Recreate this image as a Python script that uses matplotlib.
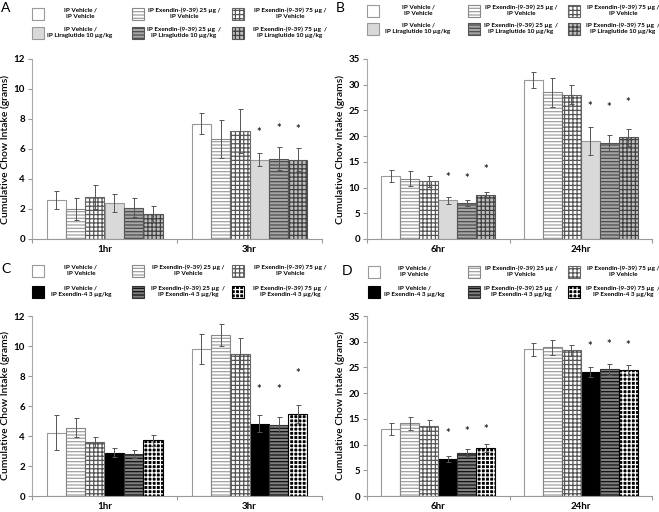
import numpy as np
import matplotlib
matplotlib.use("Agg")
import matplotlib.pyplot as plt
from matplotlib.patches import Rectangle

plt.rcParams['font.family'] = ['Lato', 'DejaVu Sans']
plt.rcParams['hatch.linewidth'] = 0.9

W, H = 659, 512

# ---- data (grams) ----
cats_ab = ['1hr', '3hr']
cats_bd = ['6hr', '24hr']

a_means = [[2.6, 2.0, 2.8, 2.4, 2.1, 1.67], [7.69, 6.69, 7.2, 5.29, 5.36, 5.29]]
a_errs = [[0.63, 0.73, 0.8, 0.6, 0.62, 0.53], [0.71, 1.27, 1.47, 0.44, 0.78, 0.78]]
a_stars = [[None] * 6, [None, None, None, 7.13, 7.36, 7.33]]

b_means = [[12.2, 11.73, 11.2, 7.5, 7.0, 8.55], [30.85, 28.5, 28.06, 19.0, 18.66, 19.77]]
b_errs = [[1.15, 1.4, 1.0, 0.6, 0.5, 0.5], [1.55, 2.8, 1.8, 2.7, 1.6, 1.7]]
b_stars = [[None, None, None, 12.05, 11.86, 13.5], [None, None, None, 25.8, 25.6, 26.6]]

c_means = [[4.22, 4.56, 3.62, 2.89, 2.82, 3.71], [9.8, 10.73, 9.5, 4.82, 4.75, 5.5]]
c_errs = [[1.18, 0.62, 0.34, 0.29, 0.27, 0.36], [0.97, 0.76, 1.05, 0.56, 0.5, 0.6]]
c_stars = [[None] * 6, [None, None, None, 7.1, 7.1, 8.2]]

d_means = [[13.0, 14.1, 13.7, 7.26, 8.4, 9.3], [28.5, 28.9, 28.3, 24.1, 24.6, 24.5]]
d_errs = [[1.2, 1.2, 1.1, 0.6, 0.7, 0.8], [1.2, 1.4, 1.0, 0.9, 1.1, 1.0]]
d_stars = [[None, None, None, 12.1, 12.6, 12.9], [None, None, None, 29.0, 29.5, 29.3]]

labels_lira = ['IP Vehicle /\nIP Vehicle',
               'IP Exendin-(9-39) 25 µg /\nIP Vehicle',
               'IP Exendin-(9-39) 75 µg /\nIP Vehicle',
               'IP Vehicle /\nIP Liraglutide 10 µg/kg',
               'IP Exendin-(9-39) 25 µg  /\nIP Liraglutide 10 µg/kg',
               'IP Exendin-(9-39) 75 µg  /\nIP Liraglutide 10 µg/kg']
labels_ex4 = ['IP Vehicle /\nIP Vehicle',
              'IP Exendin-(9-39) 25 µg /\nIP Vehicle',
              'IP Exendin-(9-39) 75 µg /\nIP Vehicle',
              'IP Vehicle /\nIP Exendin-4 3 µg/kg',
              'IP Exendin-(9-39) 25 µg  /\nIP Exendin-4 3 µg/kg',
              'IP Exendin-(9-39) 75 µg  /\nIP Exendin-4 3 µg/kg']

# style: (fill, hatch, hatch colour, edge colour)
base_styles = [('white', None, None, '#999999'),
               ('white', '-----', '#a0a0a0', '#888888'),
               ('white', '++++', '#555555', '#666666')]
lira_styles = base_styles + [('#d9d9d9', None, None, '#999999'),
                             ('#a6a6a6', '-----', '#4d4d4d', '#555555'),
                             ('#bfbfbf', '++++', '#404040', '#555555')]
ex4_styles = base_styles + [('black', None, None, 'black'),
                            ('#808080', '-----', '#111111', '#333333'),
                            ('black', '++++', 'white', 'black')]


def draw_panel(ax, cats, means, errs, stars, ymax, ystep, styles):
    n = len(styles)
    w = 0.8 / n
    x = np.arange(len(cats))
    for i in range(n):
        fill, hatch, hcol, edge = styles[i]
        xs = x - 0.4 + w * (i + 0.5)
        h = [m[i] for m in means]
        e = [er[i] for er in errs]
        if hatch:
            ax.bar(xs, h, w, color=fill, edgecolor=hcol, hatch=hatch, linewidth=0, zorder=2)
            ax.bar(xs, h, w, fill=False, edgecolor=edge, linewidth=0.8, zorder=3)
        else:
            ax.bar(xs, h, w, color=fill, edgecolor=edge, linewidth=0.8, zorder=2)
        ax.errorbar(xs, h, yerr=e, fmt='none', ecolor='#555555', elinewidth=0.7,
                    capsize=1.8, capthick=0.7, zorder=4)
        for j in range(len(cats)):
            if stars[j][i] is not None:
                ax.text(xs[j], stars[j][i], '*', ha='center', va='center',
                        fontsize=8, fontweight='bold', color='#222222')
    ax.set_xlim(-0.5, len(cats) - 0.5)
    ax.set_ylim(0, ymax)
    ax.set_yticks(np.arange(0, ymax + 0.1, ystep))
    ax.set_xticks(np.arange(-0.5, len(cats), 1.0))
    ax.set_xticklabels([])
    ax.tick_params(axis='x', length=3, color='#999999', direction='out')
    ax.tick_params(axis='y', length=3, color='#999999', labelsize=7, pad=2)
    for lab in ax.get_yticklabels():
        lab.set_fontweight('bold')
    for j, c in enumerate(cats):
        ax.text(j, -0.057, c, transform=ax.get_xaxis_transform(), ha='center', va='center',
                fontsize=7, fontweight='bold')
    for s in ['top', 'right']:
        ax.spines[s].set_visible(False)
    ax.spines['left'].set_color('#aaaaaa')
    ax.spines['bottom'].set_color('#999999')
    ax.set_ylabel('Cumulative Chow Intake (grams)', fontsize=7.5, fontweight='semibold', labelpad=3)


def draw_legend(fig, letter, letter_xy, sw_x, txt_x, rows, labels, styles):
    fig.text(letter_xy[0] / W, 1 - letter_xy[1] / H, letter, fontsize=10, ha='left', va='center')
    for k in range(6):
        r, c = divmod(k, 3)
        fill, hatch, hcol, edge = styles[k]
        yc = rows[r]
        rect = Rectangle((sw_x[c] / W, 1 - (yc + 6) / H), 12 / W, 12 / H, transform=fig.transFigure,
                         facecolor=fill, edgecolor=hcol if hatch else edge, hatch=hatch,
                         linewidth=0 if hatch else 0.8)
        fig.add_artist(rect)
        if hatch:
            fig.add_artist(Rectangle((sw_x[c] / W, 1 - (yc + 6) / H), 12 / W, 12 / H,
                                     transform=fig.transFigure, fill=False, edgecolor=edge,
                                     linewidth=0.8))
        fig.text(txt_x[c] / W, 1 - (yc - 1) / H, labels[k], ha='center', va='center',
                 multialignment='center', fontsize=4.6, fontweight='bold', linespacing=1.35)


fig = plt.figure(figsize=(W / 100, H / 100), dpi=100)
axA = fig.add_axes([32 / W, 1 - 239 / H, 290 / W, 180 / H])
axB = fig.add_axes([367 / W, 1 - 239 / H, 285 / W, 180 / H])
axC = fig.add_axes([32 / W, 1 - 496 / H, 290 / W, 180 / H])
axD = fig.add_axes([367 / W, 1 - 496 / H, 285 / W, 180 / H])

draw_panel(axA, cats_ab, a_means, a_errs, a_stars, 12, 2, lira_styles)
draw_panel(axB, cats_bd, b_means, b_errs, b_stars, 35, 5, lira_styles)
draw_panel(axC, cats_ab, c_means, c_errs, c_stars, 12, 2, ex4_styles)
draw_panel(axD, cats_bd, d_means, d_errs, d_stars, 35, 5, ex4_styles)

draw_legend(fig, 'A', (1, 8), [32, 132, 232], [80, 184, 290], [14, 33], labels_lira, lira_styles)
draw_legend(fig, 'B', (336, 8), [367, 468, 568], [418, 521, 623], [11, 29], labels_lira, lira_styles)
draw_legend(fig, 'C', (1, 269), [32, 132, 232], [81, 188, 290], [271, 292], labels_ex4, ex4_styles)
draw_legend(fig, 'D', (342, 271), [368, 468, 568], [414, 521, 623], [272, 292], labels_ex4, ex4_styles)

fig.savefig('out.png', dpi=100)
